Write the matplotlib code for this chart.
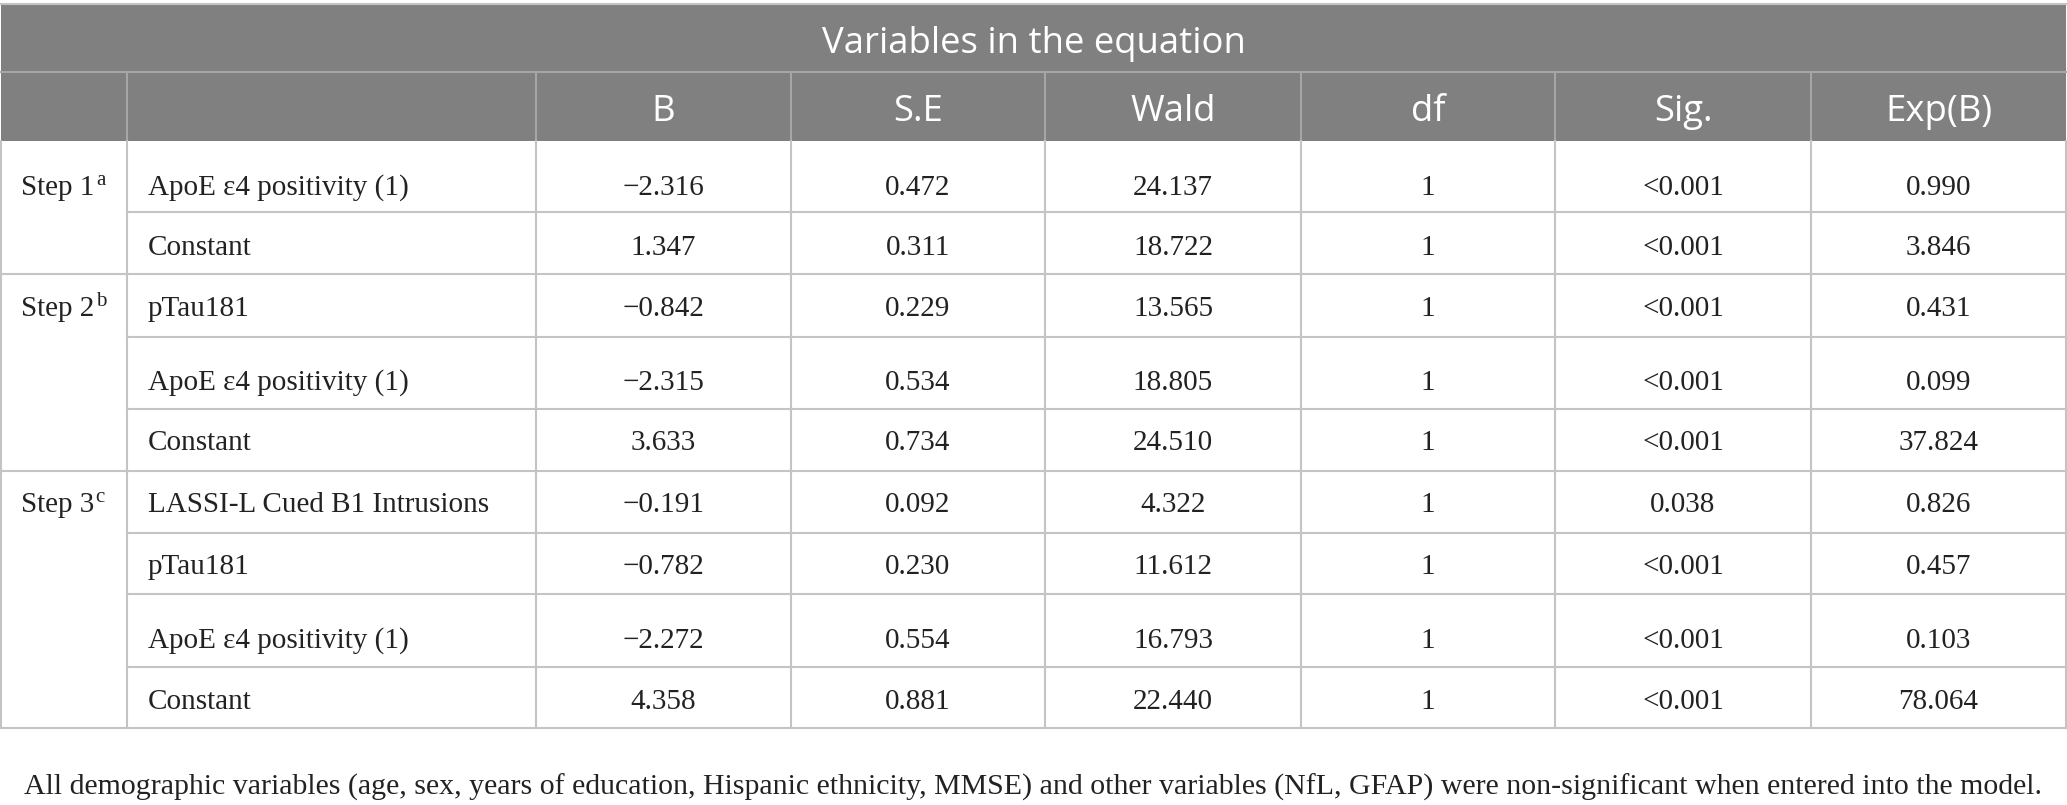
import matplotlib
matplotlib.use('Agg')
import matplotlib.pyplot as plt
from matplotlib.patches import Rectangle

title = 'Variables in the equation'
columns = ['', '', 'B', 'S.E', 'Wald', 'df', 'Sig.', 'Exp(B)']

steps = ['Step 1', 'Step 2', 'Step 3']
step_marks = ['a', 'b', 'c']
variables = [
    ['ApoE ε4 positivity (1)', 'Constant'],
    ['pTau181', 'ApoE ε4 positivity (1)', 'Constant'],
    ['LASSI-L Cued B1 Intrusions', 'pTau181', 'ApoE ε4 positivity (1)', 'Constant'],
]
b_values = [['−2.316', '1.347'],
            ['−0.842', '−2.315', '3.633'],
            ['−0.191', '−0.782', '−2.272', '4.358']]
se_values = [['0.472', '0.311'],
             ['0.229', '0.534', '0.734'],
             ['0.092', '0.230', '0.554', '0.881']]
wald_values = [['24.137', '18.722'],
               ['13.565', '18.805', '24.510'],
               ['4.322', '11.612', '16.793', '22.440']]
df_values = [['1', '1'],
             ['1', '1', '1'],
             ['1', '1', '1', '1']]
sig_values = [['<0.001', '<0.001'],
              ['<0.001', '<0.001', '<0.001'],
              ['0.038', '<0.001', '<0.001', '<0.001']]
expb_values = [['0.990', '3.846'],
               ['0.431', '0.099', '37.824'],
               ['0.826', '0.457', '0.103', '78.064']]

footnote = ('All demographic variables (age, sex, years of education, Hispanic ethnicity, MMSE) '
            'and other variables (NfL, GFAP) were non-significant when entered into the model.')

# layout in pixels
W, H = 2067, 805
col_edges = [1, 127, 536, 791, 1045, 1301, 1555, 1811, 2066]
top, title_bottom, head_bottom = 4, 72, 141
row_edges = [[141, 212, 274], [274, 337, 409, 471], [471, 533, 594, 667, 728]]
text_shift = [[8, 2], [0, 7, 0], [0, 0, 7, 1]]

gray = '#7f807f'
grid = '#c4c4c4'
head_line = '#a5a6a5'
ink = '#222222'
serif = ['Liberation Serif', 'DejaVu Serif']
sans = ['Open Sans', 'DejaVu Sans']
body_size = 21
head_size = 26.3
cap_half = 10  # half cap height of body text in pixels

fig = plt.figure(figsize=(W / 100, H / 100), dpi=100)
ax = fig.add_axes([0, 0, 1, 1])
ax.set_xlim(0, W)
ax.set_ylim(H, 0)
ax.axis('off')

# header band
ax.add_patch(Rectangle((col_edges[0], top), col_edges[-1] - col_edges[0], head_bottom - top,
                       facecolor=gray, edgecolor='none'))
ax.plot([col_edges[0], col_edges[-1]], [top, top], color=grid, lw=1.5)
ax.plot([col_edges[0], col_edges[-1]], [title_bottom, title_bottom], color=head_line, lw=1.5)
for x in col_edges[1:-1]:
    ax.plot([x, x], [title_bottom, head_bottom], color=head_line, lw=1.5)
ax.text((col_edges[0] + col_edges[-1]) / 2, 53, title,
        ha='center', va='baseline', color='white', fontsize=head_size, family=sans)
for i, name in enumerate(columns):
    if name:
        ax.text((col_edges[i] + col_edges[i + 1]) / 2, 121, name,
                ha='center', va='baseline', color='white', fontsize=head_size, family=sans)

# body grid
last = row_edges[-1][-1]
for x in col_edges:
    ax.plot([x, x], [head_bottom, last], color=grid, lw=1.5)
for g, edges in enumerate(row_edges):
    for j, y in enumerate(edges[1:]):
        x0 = col_edges[0] if j == len(edges) - 2 else col_edges[1]
        ax.plot([x0, col_edges[-1]], [y, y], color=grid, lw=1.5)

# body text
sup_size = body_size * 0.72
sup_rise = 0.66 * body_size - 0.46 * sup_size + 0.216 * body_size
for g, edges in enumerate(row_edges):
    y_first = (edges[0] + edges[1]) / 2 + text_shift[g][0] + cap_half
    t = ax.text(col_edges[0] + 20, y_first, steps[g], ha='left', va='baseline',
                fontsize=body_size, family=serif, color=ink)
    ax.annotate(step_marks[g], xy=(1.0, 0.0), xycoords=t, xytext=(1, sup_rise),
                textcoords='offset points', ha='left', va='baseline',
                fontsize=sup_size, family=serif, color=ink)
    for r in range(len(variables[g])):
        y = (edges[r] + edges[r + 1]) / 2 + text_shift[g][r] + cap_half
        ax.text(col_edges[1] + 21, y, variables[g][r], ha='left', va='baseline',
                fontsize=body_size, family=serif, color=ink)
        row_vals = [b_values[g][r], se_values[g][r], wald_values[g][r],
                    df_values[g][r], sig_values[g][r], expb_values[g][r]]
        for c, val in enumerate(row_vals):
            ax.text((col_edges[c + 2] + col_edges[c + 3]) / 2, y, val, ha='center',
                    va='baseline', fontsize=body_size, family=serif, color=ink)

ax.text(24, 795, footnote, ha='left', va='baseline', fontsize=21.5,
        family=serif, color=ink)

fig.savefig('out.png', dpi=100, facecolor='white')
